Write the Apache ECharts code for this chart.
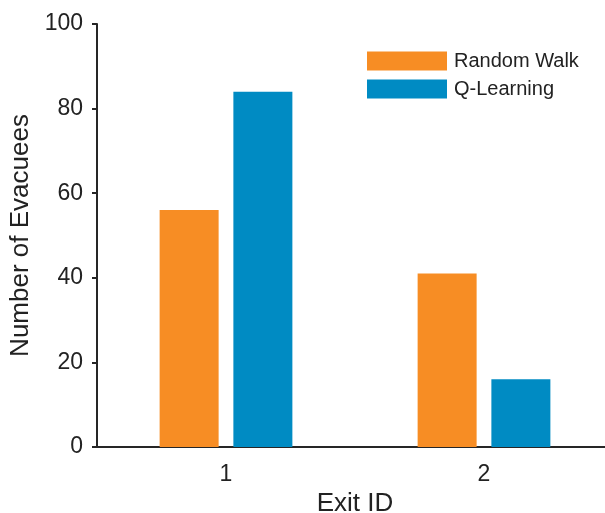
<!DOCTYPE html>
<html><head><meta charset="utf-8">
<script src="https://cdn.jsdelivr.net/npm/echarts@6/dist/echarts.min.js"></script>
<style>html,body{margin:0;padding:0;background:#fff}#c{width:605px;height:513px}</style>
</head><body><div id="c"></div>
<script>
var categories = ['1', '2'];
var randomWalk = [56, 41];
var qLearning = [84, 16];
var yTicks = [0, 20, 40, 60, 80, 100];

var chart = echarts.init(document.getElementById('c'), null, {renderer: 'canvas'});
var font = 'Liberation Sans, Arial, Helvetica, sans-serif';
var axisColor = '#262626';
var textColor = '#222';
chart.setOption({
  animation: false,
  textStyle: {fontFamily: font},
  grid: {left: 97, top: 24, width: 516, height: 423, containLabel: false, outerBoundsMode: 'none'},
  legend: {
    orient: 'vertical', left: 367, top: 51, padding: 0, itemWidth: 80, itemHeight: 19, itemGap: 8,
    icon: 'rect', selectedMode: false,
    textStyle: {fontFamily: font, fontSize: 20, color: textColor, padding: [0, 0, 0, 2]},
    data: ['Random Walk', 'Q-Learning']
  },
  xAxis: {
    type: 'category', data: categories,
    name: 'Exit ID', nameLocation: 'middle', nameGap: 44,
    nameTextStyle: {fontFamily: font, fontSize: 26, color: textColor},
    axisLine: {lineStyle: {color: axisColor, width: 2}},
    axisTick: {alignWithLabel: true, length: 5, lineStyle: {color: axisColor, width: 2}},
    axisLabel: {fontFamily: font, fontSize: 23, color: textColor, margin: 16}
  },
  yAxis: {
    type: 'value', min: yTicks[0], max: yTicks[yTicks.length - 1], interval: 20,
    name: 'Number of Evacuees', nameLocation: 'middle', nameGap: 63,
    nameTextStyle: {fontFamily: font, fontSize: 26, color: textColor},
    axisLine: {show: true, lineStyle: {color: axisColor, width: 2}},
    axisTick: {show: true, length: 5, lineStyle: {color: axisColor, width: 2}},
    splitLine: {show: false},
    axisLabel: {fontFamily: font, fontSize: 23, color: textColor, margin: 14}
  },
  series: [
    {name: 'Random Walk', type: 'bar', data: randomWalk, barWidth: 59, barGap: '25%',
     itemStyle: {color: '#F78D24'}},
    {name: 'Q-Learning', type: 'bar', data: qLearning, barWidth: 59,
     itemStyle: {color: '#008BC3'}}
  ]
});
</script></body></html>
